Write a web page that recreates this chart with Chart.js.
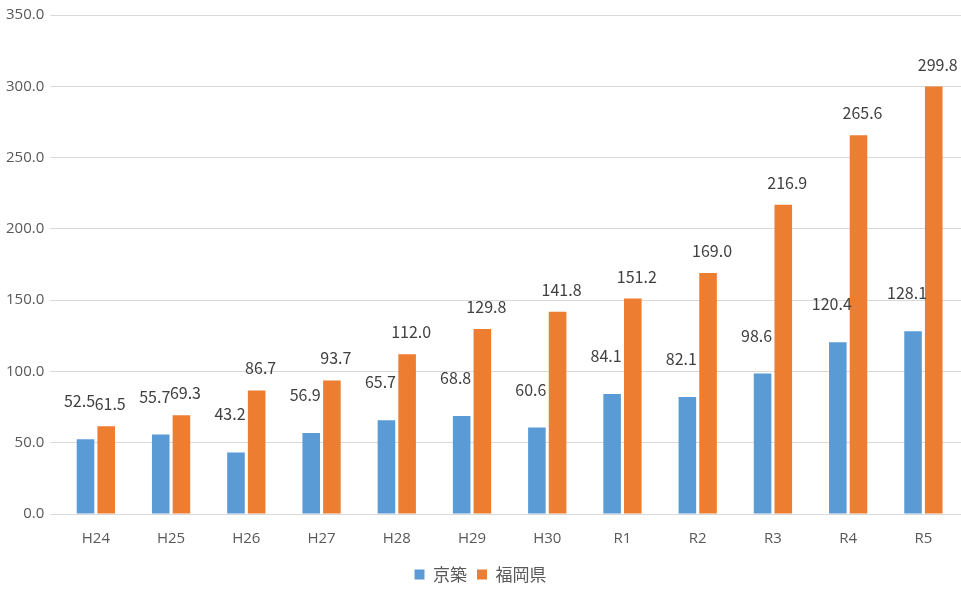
<!DOCTYPE html>
<html><head><meta charset="utf-8">
<script src="https://cdn.jsdelivr.net/npm/chart.js@4"></script>
<style>html,body{margin:0;background:#fff}#wrap{width:961px;height:595px}</style>
</head><body><div id="wrap"><canvas id="c"></canvas></div>
<script>
const categories = ['H24','H25','H26','H27','H28','H29','H30','R1','R2','R3','R4','R5'];
const kyochiku = [52.5,55.7,43.2,56.9,65.7,68.8,60.6,84.1,82.1,98.6,120.4,128.1];
const fukuoka = [61.5,69.3,86.7,93.7,112.0,129.8,141.8,151.2,169.0,216.9,265.6,299.8];

const labelPlugin = {
  id: 'vals',
  afterDatasetsDraw(chart) {
    const ctx = chart.ctx;
    ctx.save();
    ctx.font = '16px "Noto Sans CJK JP", "Open Sans", sans-serif';
    ctx.fillStyle = '#404040';
    ctx.textAlign = 'center';
    ctx.textBaseline = 'bottom';
    chart.data.datasets.forEach((ds, di) => {
      chart.getDatasetMeta(di).data.forEach((bar, i) => {
        const dx = di === 0 ? -6 : 4;
        const dy = di === 0 ? 30 : 14;
        ctx.fillText(ds.data[i].toFixed(1), bar.x + dx, bar.y - dy);
      });
    });
    ctx.restore();
  }
};

new Chart(document.getElementById('c'), {
  type: 'bar',
  data: {
    labels: categories,
    datasets: [
      { label: '京築', data: kyochiku, backgroundColor: '#5b9bd5', categoryPercentage: 0.55, barPercentage: 0.85 },
      { label: '福岡県', data: fukuoka, backgroundColor: '#ed7d31', categoryPercentage: 0.55, barPercentage: 0.85 }
    ]
  },
  options: {
    responsive: true,
    maintainAspectRatio: false,
    animation: false,
    layout: { padding: { top: 0, right: 0, left: 0, bottom: 2 } },
    plugins: {
      legend: { position: 'bottom', labels: { padding: 10, boxWidth: 10, boxHeight: 10, color: '#595959', font: { size: 17, family: '"Noto Sans CJK JP", sans-serif' } } },
      tooltip: { enabled: false }
    },
    scales: {
      x: { grid: { display: false }, border: { color: '#d9d9d9' }, ticks: { padding: 8, color: '#595959', font: { size: 15, family: '"Open Sans", sans-serif' } } },
      y: {
        min: 0, max: 350,
        grid: { color: '#d9d9d9' }, border: { display: false },
        ticks: { stepSize: 50, padding: 6, color: '#595959', font: { size: 15, family: '"Open Sans", sans-serif' }, callback: v => v.toFixed(1) }
      }
    }
  },
  plugins: [labelPlugin]
});
</script></body></html>
